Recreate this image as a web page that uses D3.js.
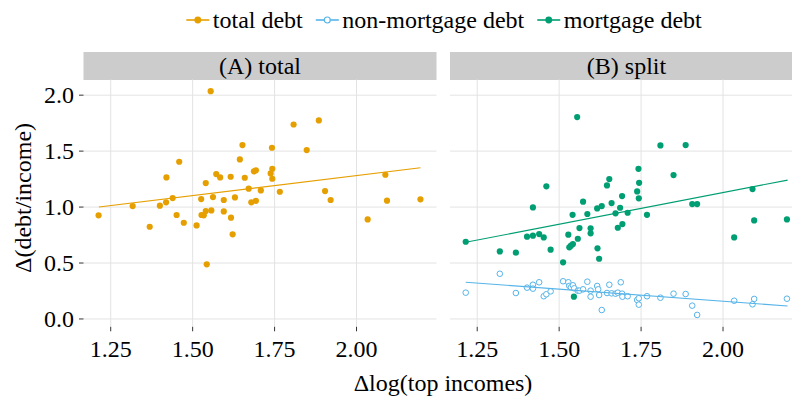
<!DOCTYPE html>
<html>
<head>
<meta charset="utf-8">
<script src="https://cdn.jsdelivr.net/npm/d3@7"></script>
<style>
  html, body { margin: 0; padding: 0; background: #ffffff; }
</style>
</head>
<body>
<svg id="chart" width="792" height="402"></svg>
<script>
// ------------------------------------------------------------
// Data (x = Δlog(top incomes), y = Δ(debt/income))
// ------------------------------------------------------------
const totalDebt = [
    [1.213, 0.926], [1.317, 1.009], [1.369, 0.824], [1.400, 1.012], [1.419, 1.042],
    [1.420, 1.265], [1.439, 1.080], [1.451, 0.929], [1.459, 1.405], [1.473, 0.860],
    [1.512, 0.836], [1.526, 1.071], [1.527, 0.929], [1.534, 0.926], [1.540, 1.214],
    [1.540, 0.964], [1.543, 0.488], [1.555, 2.036], [1.557, 0.970], [1.562, 1.089],
    [1.572, 1.295], [1.584, 1.265], [1.595, 1.063], [1.595, 0.961], [1.616, 1.271],
    [1.617, 0.905], [1.622, 0.756], [1.629, 1.086], [1.644, 1.426], [1.652, 1.554],
    [1.659, 1.262], [1.671, 1.164], [1.679, 1.042], [1.687, 1.319], [1.693, 1.328],
    [1.693, 1.056], [1.708, 1.149], [1.738, 1.301], [1.742, 1.530], [1.743, 1.342],
    [1.743, 1.253], [1.766, 1.137], [1.808, 1.738], [1.848, 1.509], [1.885, 1.774],
    [1.904, 1.143], [1.921, 1.063], [2.034, 0.890], [2.088, 1.289], [2.093, 1.057],
    [2.195, 1.069]
];

const mortgageDebt = [
    [1.215, 0.690], [1.319, 0.604], [1.368, 0.592], [1.402, 0.735], [1.420, 0.744],
    [1.420, 0.997], [1.439, 0.759], [1.453, 0.729], [1.461, 1.185], [1.474, 0.619],
    [1.512, 0.506], [1.528, 0.753], [1.531, 0.640], [1.536, 0.655], [1.541, 0.931],
    [1.542, 0.670], [1.545, 0.199], [1.555, 1.804], [1.557, 0.717], [1.562, 0.812],
    [1.573, 1.048], [1.586, 0.938], [1.596, 0.810], [1.596, 0.765], [1.616, 0.988],
    [1.617, 0.631], [1.622, 0.538], [1.630, 1.009], [1.646, 1.193], [1.653, 1.250],
    [1.660, 1.036], [1.672, 0.944], [1.679, 0.815], [1.686, 0.994], [1.692, 1.098],
    [1.693, 0.848], [1.709, 0.949], [1.738, 1.140], [1.742, 1.342], [1.743, 1.078],
    [1.744, 1.217], [1.768, 0.931], [1.809, 1.551], [1.849, 1.286], [1.886, 1.554],
    [1.906, 1.027], [1.921, 1.027], [2.034, 0.729], [2.090, 1.161], [2.095, 0.881],
    [2.195, 0.890]
];

const nonMortgageDebt = [
    [1.215, 0.235], [1.319, 0.404], [1.368, 0.232], [1.402, 0.280], [1.420, 0.306],
    [1.420, 0.271], [1.439, 0.328], [1.453, 0.203], [1.461, 0.221], [1.474, 0.247],
    [1.512, 0.337], [1.528, 0.328], [1.531, 0.295], [1.536, 0.283], [1.542, 0.301],
    [1.546, 0.274], [1.557, 0.253], [1.562, 0.253], [1.573, 0.265], [1.586, 0.333],
    [1.596, 0.253], [1.596, 0.199], [1.616, 0.295], [1.619, 0.265], [1.622, 0.214],
    [1.630, 0.080], [1.646, 0.232], [1.653, 0.306], [1.660, 0.229], [1.672, 0.226],
    [1.679, 0.235], [1.688, 0.328], [1.692, 0.226], [1.693, 0.199], [1.709, 0.203],
    [1.738, 0.170], [1.743, 0.185], [1.743, 0.128], [1.768, 0.203], [1.809, 0.190],
    [1.849, 0.226], [1.886, 0.223], [1.906, 0.119], [1.921, 0.036], [2.034, 0.163],
    [2.090, 0.131], [2.095, 0.179], [2.195, 0.181]
];

// linear fits (endpoints)
const fitTotal       = [[1.214, 1.000], [2.195, 1.351]];
const fitMortgage    = [[1.215, 0.685], [2.197, 1.241]];
const fitNonMortgage = [[1.215, 0.328], [2.197, 0.116]];

const xTicks = [1.25, 1.50, 1.75, 2.00];
const yTicks = [0.0, 0.5, 1.0, 1.5, 2.0];
const panelTitles = ["(A) total", "(B) split"];
const legendLabels = ["total debt", "non-mortgage debt", "mortgage debt"];

const COLORS = { total: "#E69F00", nonMortgage: "#56B4E9", mortgage: "#009E73" };

// ------------------------------------------------------------
// Layout
// ------------------------------------------------------------
const svg = d3.select("#chart");
const FONT = 24;
const FAMILY = "Liberation Serif, Tinos, Times New Roman, Times, Noto Serif, DejaVu Serif, FreeSerif, Nimbus Roman, serif";

const panelTop = 79.5, panelBottom = 326.8;
const panelW = 353;
const panelX0 = [83.5, 450];

const x = d3.scaleLinear().domain([1.167, 2.244]).range([0, panelW]);
const y = d3.scaleLinear().domain([-0.07, 2.14]).range([panelBottom, panelTop]);

const line = d3.line()
    .x(function (d) { return x(d[0]); })
    .y(function (d) { return y(d[1]); });

function label(sel) {
    return sel.style("font-family", FAMILY).attr("font-size", FONT).attr("fill", "#000");
}

function drawPanel(i) {
    const g = svg.append("g").attr("transform", "translate(" + panelX0[i] + ",0)");

    // strip
    g.append("rect")
        .attr("x", 0).attr("y", 52)
        .attr("width", panelW).attr("height", 28)
        .attr("fill", "#cccccc");
    g.append("text")
        .attr("x", panelW / 2).attr("y", 66)
        .attr("dy", "0.33em")
        .attr("text-anchor", "middle")
        .call(label)
        .text(panelTitles[i]);

    // grid
    g.selectAll(".gx").data(xTicks).enter().append("line")
        .attr("x1", function (d) { return x(d); }).attr("x2", function (d) { return x(d); })
        .attr("y1", panelTop).attr("y2", panelBottom)
        .attr("stroke", "#e3e3e3").attr("stroke-width", 1);
    g.selectAll(".gy").data(yTicks).enter().append("line")
        .attr("x1", 0).attr("x2", panelW)
        .attr("y1", function (d) { return y(d); }).attr("y2", function (d) { return y(d); })
        .attr("stroke", "#e3e3e3").attr("stroke-width", 1);

    // x axis ticks + labels
    g.selectAll(".tx").data(xTicks).enter().append("line")
        .attr("x1", function (d) { return x(d); }).attr("x2", function (d) { return x(d); })
        .attr("y1", panelBottom).attr("y2", panelBottom + 4.5)
        .attr("stroke", "#333").attr("stroke-width", 1);
    g.selectAll(".lx").data(xTicks).enter().append("text")
        .attr("x", function (d) { return x(d); })
        .attr("y", 357)
        .attr("text-anchor", "middle")
        .call(label)
        .text(function (d) { return d3.format(".2f")(d); });

    return g;
}

const gA = drawPanel(0);
const gB = drawPanel(1);

// y axis (left panel only)
const yAxis = svg.append("g");
yAxis.selectAll("line").data(yTicks).enter().append("line")
    .attr("x1", 79).attr("x2", 83.5)
    .attr("y1", function (d) { return y(d); }).attr("y2", function (d) { return y(d); })
    .attr("stroke", "#333").attr("stroke-width", 1);
yAxis.selectAll("text").data(yTicks).enter().append("text")
    .attr("x", 74)
    .attr("y", function (d) { return y(d); })
    .attr("dy", "0.34em")
    .attr("text-anchor", "end")
    .call(label)
    .text(function (d) { return d3.format(".1f")(d); });

// axis titles
svg.append("text")
    .attr("x", 443).attr("y", 391)
    .attr("text-anchor", "middle")
    .call(label)
    .text("Δlog(top incomes)");
svg.append("text")
    .attr("transform", "translate(31,198) rotate(-90)")
    .attr("text-anchor", "middle")
    .call(label)
    .text("Δ(debt/income)");

// ------------------------------------------------------------
// Marks
// ------------------------------------------------------------
gA.selectAll(".pt").data(totalDebt).enter().append("circle")
    .attr("cx", function (d) { return x(d[0]); })
    .attr("cy", function (d) { return y(d[1]); })
    .attr("r", 3.1)
    .attr("fill", COLORS.total);
gA.append("path").datum(fitTotal)
    .attr("d", line).attr("fill", "none")
    .attr("stroke", COLORS.total).attr("stroke-width", 1.1);

gB.selectAll(".nm").data(nonMortgageDebt).enter().append("circle")
    .attr("cx", function (d) { return x(d[0]); })
    .attr("cy", function (d) { return y(d[1]); })
    .attr("r", 2.8)
    .attr("fill", "#fff")
    .attr("stroke", COLORS.nonMortgage).attr("stroke-width", 1);
gB.selectAll(".mo").data(mortgageDebt).enter().append("circle")
    .attr("cx", function (d) { return x(d[0]); })
    .attr("cy", function (d) { return y(d[1]); })
    .attr("r", 3.1)
    .attr("fill", COLORS.mortgage);
gB.append("path").datum(fitNonMortgage)
    .attr("d", line).attr("fill", "none")
    .attr("stroke", COLORS.nonMortgage).attr("stroke-width", 1.1);
gB.append("path").datum(fitMortgage)
    .attr("d", line).attr("fill", "none")
    .attr("stroke", COLORS.mortgage).attr("stroke-width", 1.1);

// ------------------------------------------------------------
// Legend (centered over the plot)
// ------------------------------------------------------------
const legendKeys = [
    { label: legendLabels[0], color: COLORS.total, open: false },
    { label: legendLabels[1], color: COLORS.nonMortgage, open: true },
    { label: legendLabels[2], color: COLORS.mortgage, open: false }
];
const legend = svg.append("g");
let cursor = 0;
legendKeys.forEach(function (k) {
    const item = legend.append("g").attr("transform", "translate(" + cursor + ",0)");
    item.append("line")
        .attr("x1", 0).attr("x2", 23).attr("y1", 20).attr("y2", 20)
        .attr("stroke", k.color).attr("stroke-width", 1.6);
    item.append("circle")
        .attr("cx", 11.5).attr("cy", 20).attr("r", k.open ? 3 : 3.4)
        .attr("fill", k.open ? "#fff" : k.color)
        .attr("stroke", k.color).attr("stroke-width", k.open ? 1.2 : 0);
    const t = item.append("text")
        .attr("x", 26.5).attr("y", 27.5)
        .call(label)
        .text(k.label);
    cursor += 26.5 + t.node().getComputedTextLength() + 13;
});
const legendW = cursor - 13;
legend.attr("transform", "translate(" + (444 - legendW / 2) + ",0)");
</script>
</body>
</html>
